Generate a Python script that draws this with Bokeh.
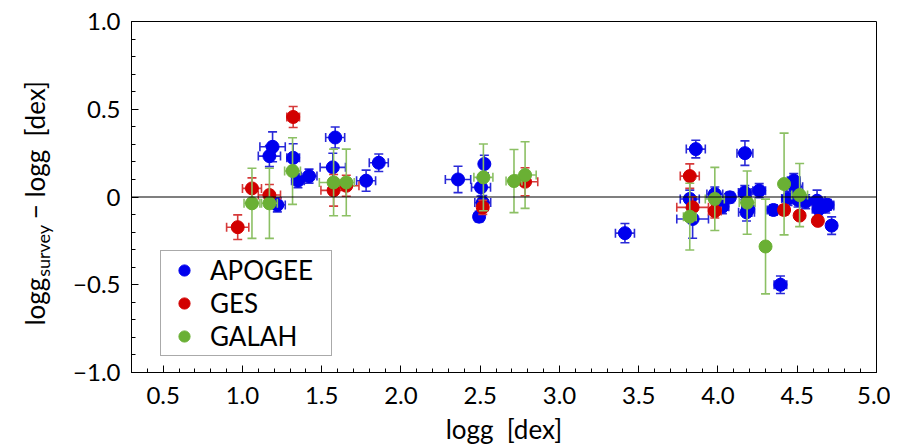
import numpy as np
from bokeh.plotting import figure
from bokeh.layouts import row
from bokeh.models import (ColumnDataSource, Span, Legend, LegendItem,
                          SingleIntervalTicker, CustomJSTickFormatter, Range1d)
from bokeh.core.properties import value
from bokeh.embed import file_html
from bokeh.resources import INLINE

# ---------------- data ----------------
apogee_x = [1.19, 1.17, 1.22, 1.32, 1.35, 1.42, 1.585, 1.57, 1.78, 1.86,
            2.36, 2.526, 2.505, 2.516, 2.493, 3.413, 3.86, 3.822, 3.84, 3.98,
            4.028, 4.075, 4.17, 4.169, 4.18, 4.19, 4.26, 4.35, 4.394, 4.478,
            4.484, 4.442, 4.505, 4.553, 4.625, 4.635, 4.68, 4.69, 4.717]
apogee_y = [0.286, 0.233, -0.045, 0.223, 0.093, 0.119, 0.339, 0.169, 0.093, 0.195,
            0.100, 0.188, 0.055, -0.032, -0.112, -0.206, 0.273, -0.011, -0.125, 0.017,
            -0.055, -0.002, 0.250, 0.025, -0.087, -0.070, 0.036, -0.074, -0.500, 0.093,
            0.059, -0.008, -0.017, -0.027, -0.021, -0.070, -0.051, -0.045, -0.163]
apogee_xerr = [0.08, 0.07, 0.05, 0.04, 0.04, 0.05, 0.06, 0.08, 0.06, 0.06,
               0.08, 0.02, 0.06, 0.05, 0.03, 0.06, 0.06, 0.06, 0.10, 0.05,
               0.04, 0.03, 0.05, 0.04, 0.05, 0.04, 0.04, 0.04, 0.04, 0.04,
               0.05, 0.04, 0.04, 0.04, 0.05, 0.04, 0.05, 0.04, 0.03]
apogee_yerr = [0.085, 0.06, 0.04, 0.08, 0.04, 0.04, 0.06, 0.08, 0.06, 0.05,
               0.075, 0.05, 0.05, 0.04, 0.03, 0.055, 0.05, 0.05, 0.11, 0.04,
               0.04, 0.03, 0.07, 0.04, 0.05, 0.04, 0.04, 0.03, 0.05, 0.04,
               0.05, 0.04, 0.04, 0.04, 0.06, 0.04, 0.04, 0.03, 0.05]

ges_x = [0.97, 1.06, 1.17, 1.32, 1.575, 1.655, 2.516, 2.783, 3.822, 3.84,
         3.98, 4.417, 4.515, 4.63]
ges_y = [-0.172, 0.049, 0.011, 0.456, 0.038, 0.064, -0.059, 0.087, 0.119, -0.059,
         -0.080, -0.074, -0.106, -0.136]
ges_xerr = [0.07, 0.06, 0.07, 0.04, 0.08, 0.08, 0.03, 0.08, 0.06, 0.10,
            0.04, 0.03, 0.02, 0.02]
ges_yerr = [0.07, 0.06, 0.06, 0.06, 0.09, 0.06, 0.04, 0.08, 0.07, 0.06,
            0.04, 0.03, 0.02, 0.02]

galah_x = [1.06, 1.17, 1.316, 1.575, 1.655, 2.52, 2.713, 2.783, 3.822, 3.98,
           4.184, 4.30, 4.417, 4.515]
galah_y = [-0.036, -0.036, 0.148, 0.083, 0.083, 0.112, 0.091, 0.125, -0.112, -0.011,
           -0.032, -0.282, 0.074, 0.011]
galah_xerr = [0.05, 0.05, 0.05, 0.09, 0.05, 0.06, 0.05, 0.07, 0.04, 0.06,
              0.05, 0.02, 0.02, 0.05]
galah_yerr = [0.20, 0.20, 0.19, 0.19, 0.19, 0.19, 0.18, 0.19, 0.19, 0.18,
              0.18, 0.27, 0.29, 0.18]

series = [
    ("APOGEE", apogee_x, apogee_y, apogee_xerr, apogee_yerr, "#0000ee", "#2a2ad8"),
    ("GES", ges_x, ges_y, ges_xerr, ges_yerr, "#d20000", "#d63a3a"),
    ("GALAH", galah_x, galah_y, galah_xerr, galah_yerr, "#6ab034", "#8cc064"),
]

FONT = "Lato"
H = 447
LAB_W = 60
F_TOP = 21      # frame top (page px)
F_BOT = 373     # frame bottom (page px)

p = figure(width=900 - 10 - LAB_W, height=H, output_backend="svg", toolbar_location=None,
           x_range=Range1d(0.3, 5.0), y_range=Range1d(-1.0, 1.0),
           min_border_left=131 - LAB_W, min_border_right=14, min_border_top=F_TOP,
           min_border_bottom=H - F_BOT)
p.background_fill_color = "white"
p.border_fill_color = "white"
p.outline_line_color = "black"
p.outline_line_width = 1
p.xgrid.visible = False
p.ygrid.visible = False

fmt = CustomJSTickFormatter(code="""
if (Math.abs(tick) < 1e-9) { return "0"; }
const s = Math.abs(tick).toFixed(1);
return (tick < 0 ? "\\u2212" : "") + s;
""")

for ax in (p.xaxis[0], p.yaxis[0]):
    ax.ticker = SingleIntervalTicker(interval=0.5, num_minor_ticks=5)
    ax.formatter = fmt
    ax.major_tick_in = 7
    ax.major_tick_out = 0
    ax.minor_tick_in = 4
    ax.minor_tick_out = 0
    ax.axis_line_color = "black"
    ax.major_tick_line_color = "black"
    ax.minor_tick_line_color = "black"
    ax.major_label_text_font = FONT
    ax.major_label_text_font_size = "24px"
    ax.major_label_text_color = "black"
    ax.major_label_standoff = 11

p.xaxis[0].major_label_standoff = 14
p.xaxis[0].axis_label = "logg\u00a0\u00a0[dex]"
p.xaxis[0].axis_label_text_font = FONT
p.xaxis[0].axis_label_text_font_size = "26px"
p.xaxis[0].axis_label_text_font_style = "normal"
p.xaxis[0].axis_label_text_color = "black"
p.xaxis[0].axis_label_standoff = 6

p.add_layout(Span(location=0, dimension="width", line_color="black", line_width=1.2))

legend_items = []
for name, xs, ys, xe, ye, col, ecol in series:
    x = np.array(xs); y = np.array(ys); dx = np.array(xe); dy = np.array(ye)
    src = ColumnDataSource(dict(x=x, y=y, xl=x - dx, xu=x + dx, yl=y - dy, yu=y + dy))
    p.segment(x0="x", y0="yl", x1="x", y1="yu", source=src, line_color=ecol, line_width=1.6)
    p.segment(x0="xl", y0="y", x1="xu", y1="y", source=src, line_color=ecol, line_width=1.6)
    p.scatter(x="x", y="yl", source=src, marker="dash", size=9, line_color=ecol, line_width=1.6)
    p.scatter(x="x", y="yu", source=src, marker="dash", size=9, line_color=ecol, line_width=1.6)
    p.scatter(x="xl", y="y", source=src, marker="dash", size=9, angle=np.pi / 2,
              line_color=ecol, line_width=1.6)
    p.scatter(x="xu", y="y", source=src, marker="dash", size=9, angle=np.pi / 2,
              line_color=ecol, line_width=1.6)
    r = p.scatter(x="x", y="y", source=src, marker="circle", size=13,
                  fill_color=col, line_color=col)
    legend_items.append(LegendItem(label=name, renderers=[r]))

legend = Legend(items=legend_items, location=(29, 16))
legend.label_text_font = FONT
legend.label_text_font_size = "26px"
legend.label_text_color = "black"
legend.border_line_color = "#555555"
legend.border_line_width = 1.5
legend.background_fill_color = "white"
legend.background_fill_alpha = 1.0
legend.padding = 3
legend.margin = 0
legend.spacing = 1
legend.glyph_height = 28
legend.label_height = 28
legend.glyph_width = 40
legend.label_width = 118
legend.label_standoff = 6
p.add_layout(legend, "center")

# ---- y-axis label panel (real text, with subscript) ----
# its frame spans the same page rows as the main frame; data y = page y (from top)
lab = figure(width=LAB_W, height=H, output_backend="svg", toolbar_location=None,
             title=None,
             x_range=Range1d(0, LAB_W), y_range=Range1d(F_BOT, F_TOP),
             x_axis_location=None, y_axis_location=None,
             min_border=0, min_border_left=0, min_border_right=0,
             min_border_top=F_TOP, min_border_bottom=H - F_BOT)
lab.outline_line_color = None
lab.xgrid.visible = False
lab.ygrid.visible = False
lab.background_fill_color = "white"
lab.border_fill_color = "white"

ylabel_main = "logg"
ylabel_sub = "survey"
ylabel_rest = "\u2212 logg\u00a0\u00a0[dex]"
lab.text(x=[34], y=[302], text=[ylabel_main], angle=np.pi / 2,
         text_font=value(FONT), text_font_size="26px", text_color="black",
         text_align="center", text_baseline="middle")
lab.text(x=[42], y=[251], text=[ylabel_sub], angle=np.pi / 2,
         text_font=value(FONT), text_font_size="18px", text_color="black",
         text_align="center", text_baseline="middle")
lab.text(x=[34], y=[150], text=[ylabel_rest], angle=np.pi / 2,
         text_font=value(FONT), text_font_size="26px", text_color="black",
         text_align="center", text_baseline="middle")

layout = row(lab, p, spacing=0)
open("out.html", "w").write(file_html(layout, INLINE))
